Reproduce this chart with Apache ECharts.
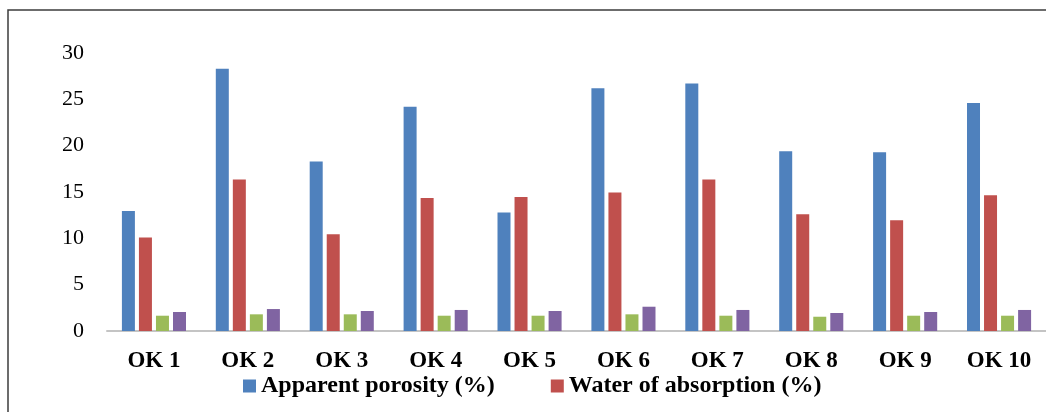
<!DOCTYPE html>
<html>
<head>
<meta charset="utf-8">
<style>
  html, body { margin: 0; padding: 0; background: #ffffff; }
  #chart { width: 1046px; height: 412px; }
</style>
<script src="https://cdn.jsdelivr.net/npm/echarts@6/dist/echarts.min.js"></script>
</head>
<body>
<div id="chart"></div>
<script>
// Samples
const categories = ['OK 1', 'OK 2', 'OK 3', 'OK 4', 'OK 5', 'OK 6', 'OK 7', 'OK 8', 'OK 9', 'OK 10'];

// Measured properties per sample
const apparentPorosity = [12.95, 28.3, 18.3, 24.2, 12.8, 26.2, 26.7, 19.4, 19.3, 24.6];
const waterAbsorption  = [10.1, 16.35, 10.45, 14.35, 14.45, 14.95, 16.35, 12.6, 11.95, 14.65];
const bulkDensity      = [1.65, 1.8, 1.8, 1.65, 1.65, 1.8, 1.65, 1.54, 1.65, 1.65];
const specificGravity  = [2.05, 2.37, 2.16, 2.27, 2.16, 2.62, 2.27, 1.94, 2.05, 2.27];

// Value axis ticks
const yTicks = [0, 5, 10, 15, 20, 25, 30];

const seriesNames = [
  'Apparent porosity (%)',
  'Water of absorption (%)',
  'Bulk density (g/cm³)',
  'Apparent specific gravity'
];
const seriesData = [apparentPorosity, waterAbsorption, bulkDensity, specificGravity];
const colors = ['#4F81BD', '#C0504D', '#9BBB59', '#8064A2'];

const serif = '"Liberation Serif", "Times New Roman", serif';

const chart = echarts.init(document.getElementById('chart'), null, { renderer: 'canvas' });

chart.setOption({
  animation: false,
  backgroundColor: '#ffffff',
  color: colors,
  graphic: [{
    type: 'rect',
    silent: true,
    shape: { x: 8, y: 10, width: 1200, height: 600 },
    style: { fill: 'none', stroke: '#3c3c3c', lineWidth: 1.5 }
  }],
  grid: { left: 107, top: 53, width: 950, height: 278, containLabel: false },
  legend: {
    data: seriesNames.slice(0, 2),
    left: 243,
    top: 374,
    padding: 0,
    icon: 'rect',
    itemWidth: 13,
    itemHeight: 13,
    itemGap: 56,
    textStyle: {
      fontFamily: serif,
      fontWeight: 'bold',
      fontSize: 24,
      lineHeight: 24,
      color: '#000000'
    }
  },
  xAxis: {
    type: 'category',
    data: categories,
    axisLine: { show: true, lineStyle: { color: '#c4c4c4', width: 2 } },
    axisTick: { show: false },
    axisLabel: {
      margin: 19,
      fontFamily: serif,
      fontWeight: 'bold',
      fontSize: 23,
      lineHeight: 23,
      color: '#000000',
      interval: 0
    },
    splitLine: { show: false }
  },
  yAxis: {
    type: 'value',
    min: yTicks[0],
    max: yTicks[yTicks.length - 1],
    interval: yTicks[1] - yTicks[0],
    axisLine: { show: false },
    axisTick: { show: false },
    splitLine: { show: false },
    axisLabel: {
      margin: 23,
      fontFamily: serif,
      fontSize: 22,
      color: '#000000'
    }
  },
  series: seriesNames.map((name, i) => ({
    name: name,
    type: 'bar',
    data: seriesData[i],
    barWidth: 13,
    barGap: '31%',
    itemStyle: { color: colors[i] }
  }))
});
</script>
</body>
</html>
